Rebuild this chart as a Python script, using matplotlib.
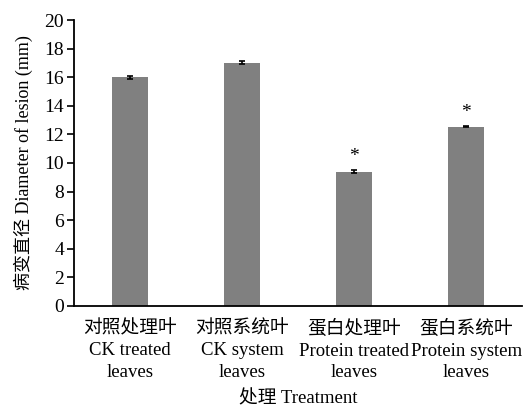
import matplotlib.pyplot as plt
import numpy as np

plt.rcParams['font.family'] = ['Liberation Serif', 'Noto Sans CJK SC']

# data
categories = ['对照处理叶\nCK treated\nleaves', '对照系统叶\nCK system\nleaves',
              '蛋白处理叶\nProtein treated\nleaves', '蛋白系统叶\nProtein system\nleaves']
values = [16.0, 17.0, 9.4, 12.55]
errors = [0.1, 0.1, 0.08, 0.06]
marks = ['', '', '*', '*']
yticks = list(range(0, 21, 2))

fig = plt.figure(figsize=(5.28, 4.09), dpi=100)
ax = fig.add_axes([0.140, 0.252, 0.849, 0.699])

x = np.arange(len(categories))
ax.bar(x, values, width=0.32, color='#808080', yerr=errors,
       error_kw=dict(ecolor='black', elinewidth=1.2, capsize=2.5, capthick=1.2))

for xi, v, e, m in zip(x, values, errors, marks):
    if m:
        ax.text(xi, v + e + 0.35, m, ha='center', va='bottom', fontsize=14)

ax.set_xlim(-0.5, len(categories) - 0.5)
ax.set_ylim(0, 20)
ax.set_yticks(yticks)
ax.set_xticks(x)
ax.set_xticklabels(categories, fontsize=13.5, linespacing=1.36)
ax.tick_params(axis='y', labelsize=14, direction='out', length=5, width=1.2, pad=2)
ax.tick_params(axis='x', length=0, pad=10)

for s in ['top', 'right']:
    ax.spines[s].set_visible(False)
for s in ['left', 'bottom']:
    ax.spines[s].set_linewidth(1.3)

ax.set_xlabel('处理 Treatment', fontsize=13.5, labelpad=6)
ax.set_ylabel('病变直径 Diameter of lesion (mm)', fontsize=13, labelpad=8)

fig.savefig('out.png', dpi=100)
